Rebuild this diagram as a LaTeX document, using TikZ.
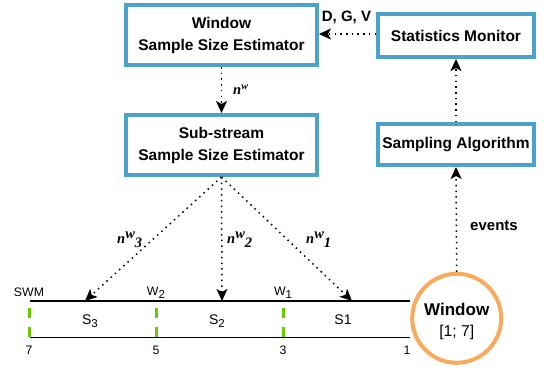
\documentclass[tikz,border=0pt]{standalone}
\usepackage{fontspec}
\setmainfont{Liberation Sans}
\newfontfamily\nfont{Liberation Serif}
\usetikzlibrary{arrows.meta}

\definecolor{boxblue}{RGB}{75,163,201}
\definecolor{ringorange}{RGB}{250,170,92}
\definecolor{tickgreen}{RGB}{102,204,0}

\newcommand{\lowsub}[1]{\raisebox{-3.5pt}{\fontsize{11.5}{12}\selectfont #1}}

\tikzset{
  box/.style={draw=boxblue, line width=4pt, fill=white, align=center,
    inner sep=0pt, font=\bfseries\fontsize{15.5}{22}\selectfont},
  flow/.style={line width=1.5pt, dash pattern=on 1.5pt off 4.2pt,
    -{Stealth[length=12pt,width=11pt,inset=3pt]}},
  lbl/.style={inner sep=0pt, font=\fontsize{12.3}{14}\selectfont},
  slbl/.style={inner sep=0pt, font=\fontsize{14}{16}\selectfont},
  blbl/.style={inner sep=0pt, font=\bfseries\fontsize{15}{18}\selectfont},
  nlbl/.style={inner sep=0pt, anchor=west, font=\nfont\bfseries\itshape\fontsize{14.5}{16}\selectfont},
  track/.style={line width=1.3pt},
  tick/.style={draw=tickgreen, line width=3pt, dash pattern=on 10pt off 9pt}
}

\begin{document}
\begin{tikzpicture}[x=1pt,y=-1pt]
\useasboundingbox (0,0) rectangle (546,368);

% estimator and monitoring boxes
\node[box, minimum width=191pt, minimum height=60pt] (win) at (221.5,35)
  {Window\\Sample Size Estimator};
\node[box, minimum width=191pt, minimum height=60pt] (sub) at (221.5,145)
  {Sub-stream\\Sample Size Estimator};
\node[box, minimum width=156pt, minimum height=43pt] (stats) at (456,35.5)
  {Statistics Monitor};
\node[box, minimum width=156pt, minimum height=41pt] (samp) at (456,144.5)
  {Sampling Algorithm};

% window circle with its two text lines
\node[circle, draw=ringorange, line width=4pt, minimum size=89pt, inner sep=0pt]
  (ring) at (456.7,318.3) {};
\node[inner sep=0pt, font=\bfseries\fontsize{17}{20}\selectfont] (ringname)
  at (456.7,309) {Window};
\node[inner sep=0pt, font=\fontsize{15.7}{18}\selectfont] (ringrange)
  at (456.7,332) {[1; 7]};

% timeline track
\coordinate (tl) at (30,301);
\coordinate (tr) at (410,301);
\coordinate (bl) at (30,337.5);
\coordinate (br) at (410,337.5);
\draw[track] (tl) -- (tr);
\draw[track] (bl) -- (br);
\foreach \x in {29,156,283} \draw[tick] (\x,308) -- (\x,337);

% targets on the track
\coordinate (t3) at (85,301);
\coordinate (t2) at (222,301);
\coordinate (t1) at (352,301);

% labels on the track
\node[lbl] (swm) at (29,292) {SWM};
\node[lbl] (w2) at (156,293) {W\lowsub{2}};
\node[lbl] (w1) at (283,293) {W\lowsub{1}};
\node[slbl] (s3) at (90,321) {S\lowsub{3}};
\node[slbl] (s2) at (217,321) {S\lowsub{2}};
\node[slbl] (s1) at (343,320) {S1};
\node[lbl] (n7) at (29,350) {7};
\node[lbl] (n5) at (156,350) {5};
\node[lbl] (n3) at (283,350) {3};
\node[lbl] (n1) at (407,350) {1};

% flow connectors
\draw[flow] (stats.west |- 0,34) -- (win.east |- 0,34);
\node[blbl] (dgv) at (346.5,17) {D, G, V};
\draw[flow] (win.south) -- (sub.north);
\node[nlbl] (nw) at (233,90) {n\textsuperscript{w}};
\draw[flow] (samp.north) -- (stats.south);
\draw[flow] (ring.north) -- (samp.south);
\node[blbl] (ev) at (494,226) {events};
\draw[flow] (sub.south) -- (t3);
\draw[flow] (sub.south) -- (t2);
\draw[flow] (sub.south) -- (t1);
\node[nlbl] (nw3) at (117,240) {n\raisebox{5pt}{w}\raisebox{-4pt}{3}};
\node[nlbl] (nw2) at (227,240) {n\raisebox{5pt}{w}\raisebox{-4pt}{2}};
\node[nlbl] (nw1) at (306,240) {n\raisebox{5pt}{w}\raisebox{-4pt}{1}};
\end{tikzpicture}
\end{document}
